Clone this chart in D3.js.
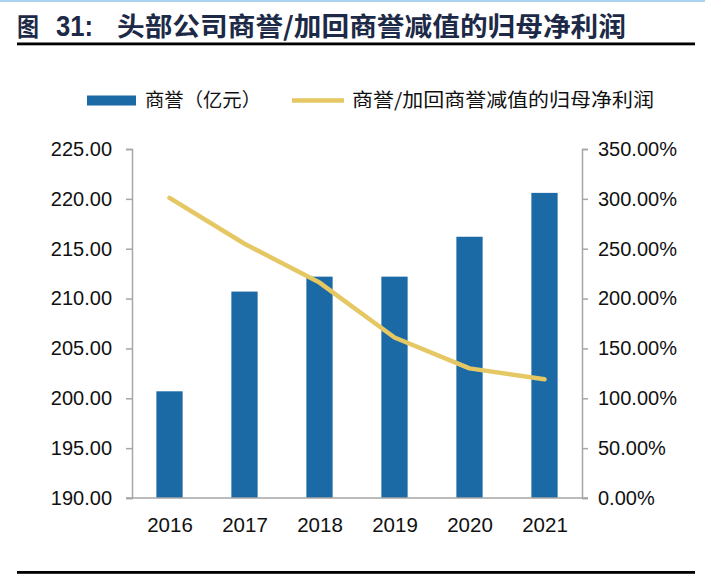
<!DOCTYPE html>
<html><head><meta charset="utf-8">
<script src="https://cdn.jsdelivr.net/npm/d3@7"></script>
<style>body{margin:0;background:#fff}svg{display:block}</style>
</head><body>
<script>
const years = ["2016","2017","2018","2019","2020","2021"];
const goodwill = [200.7, 210.7, 212.2, 212.2, 216.2, 220.6];
const ratio = [3.01, 2.55, 2.16, 1.61, 1.30, 1.19];
const leftTicks = [190,195,200,205,210,215,220,225];
const rightTicks = [0,0.5,1,1.5,2,2.5,3,3.5];
const titleParts = ["图","31:","头部公司商誉/加回商誉减值的归母净利润"];
const legendLabels = ["商誉（亿元）","商誉/加回商誉减值的归母净利润"];

const W=705,H=575;
const svg=d3.select("body").append("svg").attr("width",W).attr("height",H);
const font="'Liberation Sans', Arial, sans-serif";
const cjk="'Noto Sans CJK SC', 'Liberation Sans', sans-serif";
const titleColor="#1d2a47";

svg.append("rect").attr("x",0).attr("y",0).attr("width",W).attr("height",2).attr("fill","#a9d3ee");
// title
svg.append("text").attr("x",17).attr("y",36).attr("font-family",cjk).attr("font-weight","bold")
  .attr("font-size",25).attr("fill",titleColor).attr("textLength",22).attr("lengthAdjust","spacingAndGlyphs").text(titleParts[0]);
svg.append("text").attr("x",56).attr("y",36).attr("font-family",font).attr("font-weight","bold")
  .attr("font-size",29).attr("fill",titleColor).attr("textLength",37).attr("lengthAdjust","spacingAndGlyphs").text(titleParts[1]);
svg.append("text").attr("x",117).attr("y",36).attr("font-family",cjk).attr("font-weight","bold")
  .attr("font-size",26).attr("fill",titleColor).attr("textLength",509).attr("lengthAdjust","spacingAndGlyphs").text(titleParts[2]);
svg.append("rect").attr("x",17).attr("y",42.5).attr("width",678).attr("height",2.8).attr("fill","#000");
svg.append("rect").attr("x",17).attr("y",571).attr("width",678).attr("height",2.8).attr("fill","#000");

const x0=132,x1=582,yTop=149,yBot=498;
const x=d3.scaleBand().domain(years).range([x0,x1]).paddingInner(0.65).paddingOuter(0.325);
const xc=d3.scalePoint().domain(years).range([x0,x1]).padding(0.5);
const yL=d3.scaleLinear().domain([190,225]).range([yBot,yTop]);
const yR=d3.scaleLinear().domain([0,3.5]).range([yBot,yTop]);

const gray="#a6a6a6";
const axL=svg.append("g").attr("transform",`translate(${x0},0)`)
  .call(d3.axisLeft(yL).tickValues(leftTicks).tickFormat(d3.format(".2f")).tickSize(6).tickPadding(14));
const axR=svg.append("g").attr("transform",`translate(${x1},0)`)
  .call(d3.axisRight(yR).tickValues(rightTicks).tickFormat(d3.format(".2%")).tickSize(6).tickPadding(10));
[axL,axR].forEach(a=>{
  a.select(".domain").attr("stroke",gray).attr("stroke-width",1.5);
  a.selectAll(".tick line").attr("stroke",gray).attr("stroke-width",1.5);
  a.selectAll("text").attr("font-family",font).attr("font-size",20).attr("fill","#111");
});

svg.selectAll("rect.bar").data(years).enter().append("rect").attr("class","bar")
  .attr("x",d=>x(d)).attr("width",x.bandwidth())
  .attr("y",(d,i)=>yL(goodwill[i])).attr("height",(d,i)=>yBot-yL(goodwill[i]))
  .attr("fill","#1b6aa5");

const axB=svg.append("g").attr("transform",`translate(0,${yBot})`)
  .call(d3.axisBottom(xc).tickSize(0).tickPadding(19));
axB.select(".domain").remove();
svg.append("line").attr("x1",126).attr("x2",588).attr("y1",yBot).attr("y2",yBot).attr("stroke",gray).attr("stroke-width",1.5);
axB.selectAll("text").attr("font-family",font).attr("font-size",20.5).attr("fill","#111");

const line=d3.line().x((d,i)=>xc(years[i])).y(d=>yR(d));
svg.append("path").datum(ratio).attr("d",line).attr("fill","none")
  .attr("stroke","#e5c764").attr("stroke-width",4.5).attr("stroke-linejoin","round").attr("stroke-linecap","round");

// legend
svg.append("rect").attr("x",87).attr("y",95.5).attr("width",49).attr("height",10).attr("fill","#1b6aa5");
svg.append("text").attr("x",145).attr("y",107).attr("font-family",cjk).attr("font-size",19).attr("fill","#111")
  .attr("textLength",116).attr("lengthAdjust","spacingAndGlyphs").text(legendLabels[0]);
svg.append("line").attr("x1",292).attr("x2",344).attr("y1",100.5).attr("y2",100.5).attr("stroke","#e5c764").attr("stroke-width",4.5);
svg.append("text").attr("x",352).attr("y",107).attr("font-family",cjk).attr("font-size",19).attr("fill","#111")
  .attr("textLength",302).attr("lengthAdjust","spacingAndGlyphs").text(legendLabels[1]);
</script>
</body></html>
